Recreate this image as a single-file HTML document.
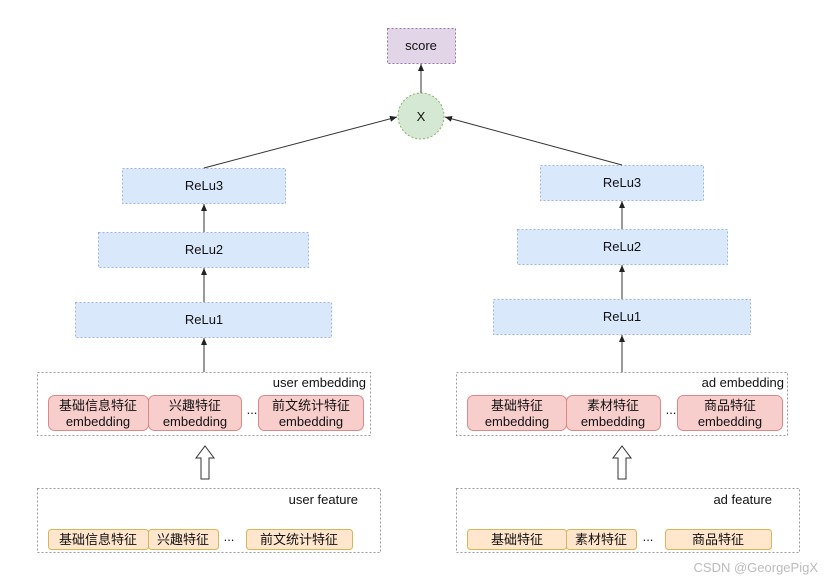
<!DOCTYPE html>
<html><head><meta charset="utf-8"><style>
html,body{margin:0;padding:0;background:#fff;}
svg{display:block;}
text{font-family:"Liberation Sans","Noto Sans CJK SC",sans-serif;font-size:13px;fill:#111;}
</style></head><body>
<svg width="832" height="584" viewBox="0 0 832 584" xmlns="http://www.w3.org/2000/svg">
<defs><marker id="a" markerWidth="8" markerHeight="8" refX="7" refY="4" orient="auto" markerUnits="userSpaceOnUse"><path d="M0,1 L7,4 L0,7 Z" fill="#222"/></marker></defs>
<g stroke-dasharray="2,2">
<rect x="387.5" y="28.5" width="68" height="35" fill="#e1d5e7" stroke="#9673a6"/>
<circle cx="421" cy="116" r="23" fill="#d5e8d4" stroke="#82b366"/>
<rect x="122.5" y="168.5" width="163" height="35" fill="#dae8fc" stroke="#9db4d8"/>
<rect x="98.5" y="232.5" width="210" height="35" fill="#dae8fc" stroke="#9db4d8"/>
<rect x="75.5" y="302.5" width="256" height="35" fill="#dae8fc" stroke="#9db4d8"/>
<rect x="540.5" y="165.5" width="163" height="35" fill="#dae8fc" stroke="#9db4d8"/>
<rect x="517.5" y="229.5" width="210" height="35" fill="#dae8fc" stroke="#9db4d8"/>
<rect x="493.5" y="299.5" width="257" height="35" fill="#dae8fc" stroke="#9db4d8"/>
<rect x="37.5" y="372.5" width="333" height="63" fill="none" stroke="#999"/>
<rect x="456.5" y="372.5" width="331" height="63" fill="none" stroke="#999"/>
<rect x="37.5" y="488.5" width="343" height="64" fill="none" stroke="#999"/>
<rect x="456.5" y="488.5" width="343" height="64" fill="none" stroke="#999"/>
</g>
<text x="421" y="50" text-anchor="middle">score</text>
<text x="421" y="121" text-anchor="middle" font-size="14">X</text>
<text x="204" y="190" text-anchor="middle">ReLu3</text>
<text x="204" y="254" text-anchor="middle">ReLu2</text>
<text x="204" y="324" text-anchor="middle">ReLu1</text>
<text x="622" y="187" text-anchor="middle">ReLu3</text>
<text x="622" y="251" text-anchor="middle">ReLu2</text>
<text x="622" y="321" text-anchor="middle">ReLu1</text>
<g stroke="#333" stroke-width="1" fill="none" marker-end="url(#a)">
<line x1="421" y1="93" x2="421" y2="64"/>
<line x1="204" y1="168" x2="397" y2="117"/>
<line x1="622" y1="165" x2="445" y2="117"/>
<line x1="204" y1="232" x2="204" y2="204"/>
<line x1="204" y1="302" x2="204" y2="268"/>
<line x1="204" y1="372" x2="204" y2="338"/>
<line x1="622" y1="229" x2="622" y2="201"/>
<line x1="622" y1="299" x2="622" y2="265"/>
<line x1="622" y1="372" x2="622" y2="335"/>
</g>
<text x="366" y="387" text-anchor="end">user embedding</text>
<text x="784" y="387" text-anchor="end">ad embedding</text>
<text x="358" y="504" text-anchor="end">user feature</text>
<text x="772" y="504" text-anchor="end">ad feature</text>
<g fill="#f8cecc" stroke="#d98a88">
<rect x="48.5" y="395.5" width="100" height="35" rx="6"/>
<rect x="148.5" y="395.5" width="93" height="35" rx="6"/>
<rect x="258.5" y="395.5" width="105" height="35" rx="6"/>
<rect x="467.5" y="395.5" width="99" height="35" rx="6"/>
<rect x="566.5" y="395.5" width="94" height="35" rx="6"/>
<rect x="677.5" y="395.5" width="105" height="35" rx="6"/>
</g>
<g text-anchor="middle">
<text x="98" y="410">基础信息特征</text><text x="98" y="426">embedding</text>
<text x="195" y="410">兴趣特征</text><text x="195" y="426">embedding</text>
<text x="311" y="410">前文统计特征</text><text x="311" y="426">embedding</text>
<text x="517" y="410">基础特征</text><text x="517" y="426">embedding</text>
<text x="613" y="410">素材特征</text><text x="613" y="426">embedding</text>
<text x="730" y="410">商品特征</text><text x="730" y="426">embedding</text>
<text x="252" y="414" font-size="10">...</text>
<text x="671" y="414" font-size="10">...</text>
</g>
<g fill="#ffe6cc" stroke="#d6b656">
<rect x="48.5" y="529.5" width="100" height="20" rx="3"/>
<rect x="148.5" y="529.5" width="70" height="20" rx="3"/>
<rect x="246.5" y="529.5" width="106" height="20" rx="3"/>
<rect x="467.5" y="529.5" width="99" height="20" rx="3"/>
<rect x="566.5" y="529.5" width="70" height="20" rx="3"/>
<rect x="665.5" y="529.5" width="106" height="20" rx="3"/>
</g>
<g text-anchor="middle">
<text x="98" y="544">基础信息特征</text>
<text x="183" y="544">兴趣特征</text>
<text x="299" y="544">前文统计特征</text>
<text x="517" y="544">基础特征</text>
<text x="601" y="544">素材特征</text>
<text x="718" y="544">商品特征</text>
<text x="229" y="541" font-size="10">...</text>
<text x="648" y="541" font-size="10">...</text>
</g>
<path d="M201,479 L201,458 L196,458 L205,446 L214,458 L209,458 L209,479 Z" fill="#fff" stroke="#333"/>
<path d="M618,479 L618,458 L613,458 L622,446 L631,458 L626,458 L626,479 Z" fill="#fff" stroke="#333"/>
<text x="818" y="572" text-anchor="end" font-size="15" style="fill:#bbb">CSDN @GeorgePigX</text>
</svg>
</body></html>
